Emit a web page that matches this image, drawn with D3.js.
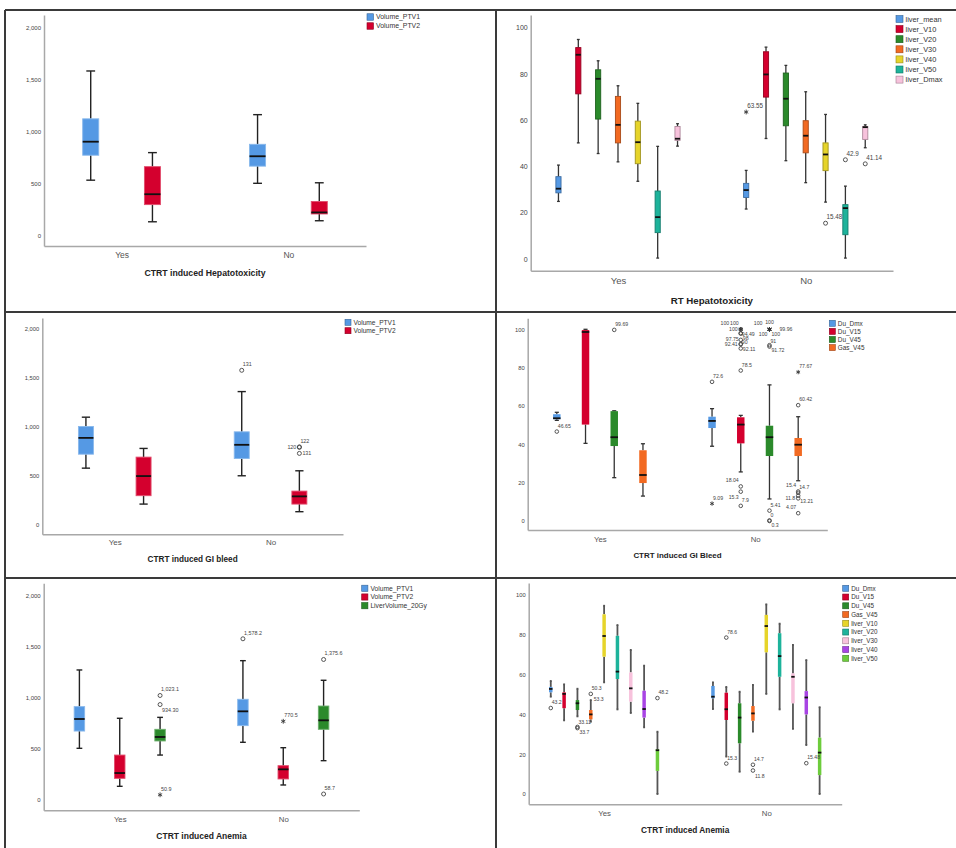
<!DOCTYPE html>
<html><head><meta charset="utf-8">
<script src="https://cdn.jsdelivr.net/npm/d3@7/dist/d3.min.js"></script>
<style>html,body{margin:0;padding:0;background:#fff}</style>
</head><body>
<svg id="chart" width="956" height="848"></svg>
<script>
// ---------------- DATA ----------------
const groups = ['Yes', 'No'];

const hepVolSeries = ['Volume_PTV1', 'Volume_PTV2'];
// [group, series, low, q1, median, q3, high]
const hepVolStats = [
  ['Yes', 'Volume_PTV1', 530, 770, 900, 1120, 1580],
  ['Yes', 'Volume_PTV2', 130, 295, 395, 660, 795],
  ['No',  'Volume_PTV1', 500, 665, 760, 875, 1160],
  ['No',  'Volume_PTV2', 140, 205, 220, 325, 505]
];
const hepVolOutliers = [];

const rtHepSeries = ['liver_mean', 'liver_V10', 'liver_V20', 'liver_V30', 'liver_V40', 'liver_V50', 'liver_Dmax'];
const rtHepStats = [
  ['Yes', 'liver_mean', 24.9, 28.6, 30.4, 35.6, 40.6],
  ['Yes', 'liver_V10', 50.2, 71.4, 88.3, 91.4, 94.9],
  ['Yes', 'liver_V20', 45.6, 60.5, 77.9, 81.8, 85.7],
  ['Yes', 'liver_V30', 42, 50.2, 58, 70.3, 74.9],
  ['Yes', 'liver_V40', 33.6, 41.2, 50.5, 59.6, 67.3],
  ['Yes', 'liver_V50', 0.4, 11.4, 18.1, 29.4, 48.7],
  ['Yes', 'liver_Dmax', 48.8, 51.3, 52, 57.3, 58.5],
  ['No', 'liver_mean', 21.6, 26.6, 29.8, 32.7, 38.3],
  ['No', 'liver_V10', 52.1, 70, 79.8, 89.6, 91.6],
  ['No', 'liver_V20', 42.5, 57.6, 69.3, 80.4, 83.7],
  ['No', 'liver_V30', 33, 45.9, 53.3, 59.8, 72.3],
  ['No', 'liver_V40', 24.6, 38.2, 45.2, 50.2, 62.5],
  ['No', 'liver_V50', 0.4, 10.5, 22, 23.5, 31.5],
  ['No', 'liver_Dmax', 48.1, 51.7, 57, 57.3, 58]
];
// [group, series, value, label, symbol, label side]
const rtHepOutliers = [
  ['No', 'liver_mean', 63.55, '63.55', 'star', 'ne'],
  ['No', 'liver_V40', 15.48, '15.48', 'circle', 'ne'],
  ['No', 'liver_V50', 42.9, '42.9', 'circle', 'ne'],
  ['No', 'liver_Dmax', 41.14, '41.14', 'circle', 'ne']
];

const giVolSeries = ['Volume_PTV1', 'Volume_PTV2'];
const giVolStats = [
  ['Yes', 'Volume_PTV1', 575, 718, 885, 1002, 1097],
  ['Yes', 'Volume_PTV2', 207, 293, 494, 688, 777],
  ['No', 'Volume_PTV1', 497, 674, 814, 947, 1359],
  ['No', 'Volume_PTV2', 129, 207, 286, 340, 548]
];
const giVolOutliers = [
  ['No', 'Volume_PTV1', 1577, '131', 'circle', 'ne'],
  ['No', 'Volume_PTV2', 793, '122', 'circle', 'ne'],
  ['No', 'Volume_PTV2', 788, '120', 'circle', 'w'],
  ['No', 'Volume_PTV2', 726, '131', 'circle', 'e']
];

const giDoseSeries = ['Du_Dmx', 'Du_V15', 'Du_V45', 'Gas_V45'];
const giDoseStats = [
  ['Yes', 'Du_Dmx', 52.5, 53.1, 53.6, 55.7, 56.7],
  ['Yes', 'Du_V15', 40.5, 50.3, 98.6, 99.6, 100],
  ['Yes', 'Du_V45', 22.6, 39.1, 43.7, 57.3, 57.5],
  ['Yes', 'Gas_V45', 13, 19.8, 24, 36.9, 40.3],
  ['No', 'Du_Dmx', 39, 48.5, 52.2, 54.4, 58.6],
  ['No', 'Du_V15', 25.6, 40.5, 50.3, 54.1, 55.1],
  ['No', 'Du_V45', 11.5, 33.9, 43.7, 49.7, 71],
  ['No', 'Gas_V45', 21, 33.9, 39.8, 43.3, 54.4]
];
const giDoseOutliers = [
  ['Yes', 'Du_Dmx', 46.65, '46.65', 'circle', 'ne'],
  ['Yes', 'Du_V45', 99.69, '99.69', 'circle', 'ne'],
  ['No', 'Du_Dmx', 72.6, '72.6', 'circle', 'ne'],
  ['No', 'Du_Dmx', 9.09, '9.09', 'star', 'ne'],
  ['No', 'Du_V15', 100, '100', 'star', 'nww'],
  ['No', 'Du_V15', 100, '100', 'star', 'nw'],
  ['No', 'Du_V15', 100, '100', 'circle', 'w'],
  ['No', 'Du_V15', 98, '98', 'circle', 'se'],
  ['No', 'Du_V15', 97.75, '97.75', 'circle', 'sw'],
  ['No', 'Du_V15', 94.49, '94.49', 'circle', 'ne'],
  ['No', 'Du_V15', 92.41, '92.41', 'circle', 'w'],
  ['No', 'Du_V15', 92.11, '92.11', 'circle', 'se'],
  ['No', 'Du_V15', 90, '90', 'circle', 'ne'],
  ['No', 'Du_V15', 78.5, '78.5', 'circle', 'ne'],
  ['No', 'Du_V15', 18.04, '18.04', 'circle', 'nw'],
  ['No', 'Du_V15', 15.3, '15.3', 'circle', 'sw'],
  ['No', 'Du_V15', 7.9, '7.9', 'circle', 'ne'],
  ['No', 'Du_V45', 100, '100', 'star', 'nwx'],
  ['No', 'Du_V45', 100, '100', 'star', 'n'],
  ['No', 'Du_V45', 100, '100', 'star', 'sw'],
  ['No', 'Du_V45', 100, '100', 'star', 'se'],
  ['No', 'Du_V45', 99.96, '99.96', 'star', 'ee'],
  ['No', 'Du_V45', 91, '91', 'circle', 'ne'],
  ['No', 'Du_V45', 91.72, '91.72', 'circle', 'se'],
  ['No', 'Du_V45', 5.41, '5.41', 'circle', 'ne'],
  ['No', 'Du_V45', 0, '0', 'circle', 'ne'],
  ['No', 'Du_V45', 0.3, '0.3', 'circle', 'se'],
  ['No', 'Gas_V45', 77.67, '77.67', 'star', 'ne'],
  ['No', 'Gas_V45', 60.42, '60.42', 'circle', 'ne'],
  ['No', 'Gas_V45', 15.4, '15.4', 'circle', 'nw'],
  ['No', 'Gas_V45', 14.7, '14.7', 'circle', 'ne'],
  ['No', 'Gas_V45', 13.21, '13.21', 'circle', 'se'],
  ['No', 'Gas_V45', 11.8, '11.8', 'circle', 'w'],
  ['No', 'Gas_V45', 4.07, '4.07', 'circle', 'nw']
];

const anVolSeries = ['Volume_PTV1', 'Volume_PTV2', 'LiverVolume_20Gy'];
const anVolStats = [
  ['Yes', 'Volume_PTV1', 506, 675, 793, 914, 1273],
  ['Yes', 'Volume_PTV2', 134, 212, 264, 440, 800],
  ['Yes', 'LiverVolume_20Gy', 440, 578, 617, 692, 809],
  ['No', 'Volume_PTV1', 565, 728, 868, 986, 1364],
  ['No', 'Volume_PTV2', 147, 206, 300, 336, 512],
  ['No', 'LiverVolume_20Gy', 385, 692, 780, 920, 1172]
];
const anVolOutliers = [
  ['Yes', 'LiverVolume_20Gy', 1023.1, '1,023.1', 'circle', 'ne'],
  ['Yes', 'LiverVolume_20Gy', 934.3, '934.30', 'circle', 'se'],
  ['Yes', 'LiverVolume_20Gy', 50.9, '50.9', 'star', 'ne'],
  ['No', 'Volume_PTV1', 1578.2, '1,578.2', 'circle', 'ne'],
  ['No', 'Volume_PTV2', 770.5, '770.5', 'star', 'ne'],
  ['No', 'LiverVolume_20Gy', 1375.6, '1,375.6', 'circle', 'ne'],
  ['No', 'LiverVolume_20Gy', 58.7, '58.7', 'circle', 'ne']
];

const anDoseSeries = ['Du_Dmx', 'Du_V15', 'Du_V45', 'Gas_V45', 'liver_V10', 'liver_V20', 'liver_V30', 'liver_V40', 'liver_V50'];
const anDoseStats = [
  ['Yes', 'Du_Dmx', 48.9, 51.1, 52.8, 53.8, 56.8],
  ['Yes', 'Du_V15', 37, 43.1, 50.3, 51.1, 55.1],
  ['Yes', 'Du_V45', 39, 42.2, 45.6, 47.2, 52.9],
  ['Yes', 'Gas_V45', 36.3, 37.5, 40, 42.2, 47.2],
  ['Yes', 'liver_V10', 56.1, 69, 79.4, 90.3, 94.6],
  ['Yes', 'liver_V20', 42.5, 57.8, 61.5, 79.5, 84.9],
  ['Yes', 'liver_V30', 40.7, 46.4, 53.1, 61.1, 72.4],
  ['Yes', 'liver_V40', 33.5, 38.4, 42.7, 51.9, 64.5],
  ['Yes', 'liver_V50', 0, 11.6, 22, 22.5, 31.3],
  ['No', 'Du_Dmx', 42.7, 48.1, 48.9, 54.3, 56.1],
  ['No', 'Du_V15', 18.8, 37.2, 42.6, 50.9, 53.8],
  ['No', 'Du_V45', 11.2, 25.5, 38.4, 45.6, 51.4],
  ['No', 'Gas_V45', 31.3, 36.8, 40.5, 44.2, 54.8],
  ['No', 'liver_V10', 50.3, 71.2, 84.4, 90, 95.3],
  ['No', 'liver_V20', 42.5, 58.9, 69.3, 80.8, 85.6],
  ['No', 'liver_V30', 32.7, 45.6, 58.9, 60.6, 74.9],
  ['No', 'liver_V40', 24.6, 40, 48.5, 51.7, 67.3],
  ['No', 'liver_V50', 0, 9.5, 20.8, 28.3, 43.6]
];
const anDoseOutliers = [
  ['Yes', 'Du_Dmx', 43.2, '43.2', 'circle', 'ne'],
  ['Yes', 'Du_V45', 33.11, '33.11', 'circle', 'ne'],
  ['Yes', 'Du_V45', 33.7, '33.7', 'circle', 'se'],
  ['Yes', 'Gas_V45', 50.3, '50.3', 'circle', 'ne'],
  ['Yes', 'Gas_V45', 47.5, '53.3', 'none', 'e'],
  ['Yes', 'liver_V50', 48.2, '48.2', 'circle', 'ne'],
  ['No', 'Du_V15', 78.6, '78.6', 'circle', 'ne'],
  ['No', 'Du_V15', 15.3, '15.3', 'circle', 'ne'],
  ['No', 'Gas_V45', 14.7, '14.7', 'circle', 'ne'],
  ['No', 'Gas_V45', 11.8, '11.8', 'circle', 'se'],
  ['No', 'liver_V40', 15.48, '15.48', 'circle', 'ne']
];

const volTicks = [0, 500, 1000, 1500, 2000];
const pctTicks = [0, 20, 40, 60, 80, 100];

// ---------------- STYLE / LAYOUT ----------------
const palette = ['#5599e4', '#d4002e', '#2b8a2b', '#f26a22', '#e6d42a', '#1db39b', '#f7c2dc', '#a844e4', '#6dcc3c'];
const FONT = "'Liberation Sans', Arial, Helvetica, sans-serif";

const panels = [
  { series: hepVolSeries, stats: hepVolStats, outliers: hepVolOutliers, ticks: volTicks, fmt: d3.format(','),
    title: 'CTRT induced Hepatotoxicity',
    x0: 44, x1: 366, yTop: 15, yBase: 246, yZero: 235.3, yMaxTick: 27.3,
    tickFont: 6, catFont: 8.5, catBase: 258, titleBase: 276, titleFont: 8.7,
    lg: { x: 367, y: 17, step: 9, font: 6.9, sw: 6.5 }, labFont: 5.5, r: 2,
    wColor: '#222', wWidth: 1.4, stroke: 'light' },
  { series: rtHepSeries, stats: rtHepStats, outliers: rtHepOutliers, ticks: pctTicks, fmt: d3.format('d'),
    title: 'RT Hepatotoxicity',
    x0: 530.7, x1: 893, yTop: 15, yBase: 270.7, yZero: 259, yMaxTick: 27.7,
    tickFont: 7, catFont: 9.5, catBase: 284, titleBase: 303.5, titleFont: 9.7,
    lg: { x: 896, y: 19, step: 10.1, font: 7.4, sw: 7 }, labFont: 6.3, r: 2,
    wColor: '#333', wWidth: 1.3, stroke: 'dark' },
  { series: giVolSeries, stats: giVolStats, outliers: giVolOutliers, ticks: volTicks, fmt: d3.format(','),
    title: 'CTRT induced GI bleed',
    x0: 42.3, x1: 343, yTop: 318, yBase: 534.3, yZero: 524.3, yMaxTick: 329,
    tickFont: 5.8, catFont: 8, catBase: 545.5, titleBase: 562, titleFont: 8.2,
    lg: { x: 345, y: 322.3, step: 8.4, font: 6.6, sw: 6 }, labFont: 5.4, r: 2,
    wColor: '#222', wWidth: 1.4, stroke: 'light' },
  { series: giDoseSeries, stats: giDoseStats, outliers: giDoseOutliers, ticks: pctTicks, fmt: d3.format('d'),
    title: 'CTRT induced GI Bleed',
    x0: 527.7, x1: 827.3, yTop: 318.3, yBase: 530, yZero: 521, yMaxTick: 329.3,
    tickFont: 5.8, catFont: 7.8, catBase: 542, titleBase: 558, titleFont: 7.95,
    lg: { x: 829.3, y: 323.3, step: 8.1, font: 6.4, sw: 6 }, labFont: 5.2, r: 1.8,
    wColor: '#333', wWidth: 1.3, stroke: 'same' },
  { series: anVolSeries, stats: anVolStats, outliers: anVolOutliers, ticks: volTicks, fmt: d3.format(','),
    title: 'CTRT induced Anemia',
    x0: 43.7, x1: 359.3, yTop: 583.3, yBase: 810.3, yZero: 800, yMaxTick: 595.7,
    tickFont: 6, catFont: 7.8, catBase: 822, titleBase: 839, titleFont: 8.5,
    lg: { x: 361.7, y: 588.3, step: 8.7, font: 6.7, sw: 6.2 }, labFont: 5.4, r: 2,
    wColor: '#222', wWidth: 1.4, stroke: 'light' },
  { series: anDoseSeries, stats: anDoseStats, outliers: anDoseOutliers, ticks: pctTicks, fmt: d3.format('d'),
    title: 'CTRT induced Anemia',
    x0: 528.7, x1: 841.7, yTop: 583, yBase: 804.3, yZero: 794, yMaxTick: 595,
    tickFont: 5.8, catFont: 7.8, catBase: 816, titleBase: 833, titleFont: 8.3,
    lg: { x: 842.7, y: 588.3, step: 8.75, font: 6.3, sw: 6 }, labFont: 5.1, r: 1.8,
    wColor: '#555', wWidth: 1.8, stroke: 'same' }
];

const labelPlace = {
  ne: [1, -4, 'start'], nw: [-2, -4, 'end'], nww: [-11.5, -4, 'end'], nwx: [-7, -4, 'end'],
  n: [0, -5, 'middle'],
  e: [3, 2, 'start'], ee: [10, 2, 'start'], w: [-3, 2, 'end'],
  se: [2, 7, 'start'], sw: [-2, 7, 'end']
};

// ---------------- DRAW ----------------
const svg = d3.select('#chart');
svg.append('rect').attr('width', 956).attr('height', 848).attr('fill', '#fff');

panels.forEach(p => {
  const g = svg.append('g').style('font-family', FONT);
  const topTick = d3.max(p.ticks);
  const y0 = d3.scaleLinear().domain([0, topTick]).range([p.yZero, p.yMaxTick]);
  const y = d3.scaleLinear().domain([y0.invert(p.yBase), y0.invert(p.yTop)]).range([p.yBase, p.yTop]);
  const x = d3.scalePoint().domain(groups).range([p.x0, p.x1]).padding(0.465);
  const step = x.step();
  const inner = d3.scaleBand().domain(p.series).range([-0.37 * step, 0.37 * step]);
  const slot = inner.bandwidth();
  const bw = slot * 0.26;
  const cap = bw * 0.55;
  const color = s => palette[p.series.indexOf(s)];
  const cxOf = (grp, s) => x(grp) + inner(s) + slot / 2;

  // axes
  const ya = g.append('g').attr('transform', `translate(${p.x0},0)`)
    .call(d3.axisLeft(y).tickValues(p.ticks).tickFormat(p.fmt).tickSize(0).tickSizeOuter(0).tickPadding(3));
  ya.select('.domain').attr('stroke', '#a8a8a8').attr('stroke-width', 1.5);
  ya.selectAll('text').attr('font-size', p.tickFont).attr('fill', '#444').style('font-family', FONT);

  const xa = g.append('g').attr('transform', `translate(0,${p.yBase})`)
    .call(d3.axisBottom(x).tickSize(0).tickSizeOuter(0));
  xa.select('.domain').attr('stroke', '#a8a8a8').attr('stroke-width', 1.5);
  xa.selectAll('text').attr('font-size', p.catFont).attr('fill', '#555')
    .attr('y', p.catBase - p.yBase).attr('dy', 0).style('font-family', FONT);

  g.append('text').attr('x', (p.x0 + p.x1) / 2).attr('y', p.titleBase)
    .attr('text-anchor', 'middle').attr('font-size', p.titleFont).attr('font-weight', 'bold')
    .attr('fill', '#222').text(p.title);

  // boxes
  p.stats.forEach(([grp, s, lo, q1, med, q3, hi]) => {
    const cx = cxOf(grp, s);
    const c = color(s);
    const wl = g.append('g').attr('stroke', p.wColor).attr('stroke-width', p.wWidth);
    wl.append('line').attr('x1', cx).attr('x2', cx).attr('y1', y(q3)).attr('y2', y(hi));
    wl.append('line').attr('x1', cx).attr('x2', cx).attr('y1', y(q1)).attr('y2', y(lo));
    wl.append('line').attr('x1', cx - cap / 2).attr('x2', cx + cap / 2).attr('y1', y(hi)).attr('y2', y(hi));
    wl.append('line').attr('x1', cx - cap / 2).attr('x2', cx + cap / 2).attr('y1', y(lo)).attr('y2', y(lo));
    let st = c;
    if (p.stroke === 'light') st = d3.interpolateRgb(c, '#fff')(0.3);
    if (p.stroke === 'dark') st = d3.color(c).darker(1).formatHex();
    g.append('rect').attr('x', cx - bw / 2).attr('y', y(q3))
      .attr('width', bw).attr('height', Math.max(0.5, y(q1) - y(q3)))
      .attr('fill', c).attr('stroke', st).attr('stroke-width', p.stroke === 'same' ? 0 : 0.9);
    g.append('line').attr('x1', cx - bw / 2).attr('x2', cx + bw / 2)
      .attr('y1', y(med)).attr('y2', y(med)).attr('stroke', '#111').attr('stroke-width', 1.8);
  });

  // outliers
  p.outliers.forEach(([grp, s, v, lab, sym, side]) => {
    const cx = cxOf(grp, s);
    const cy = y(v);
    if (sym === 'circle') {
      g.append('circle').attr('cx', cx).attr('cy', cy).attr('r', p.r)
        .attr('fill', 'none').attr('stroke', '#444').attr('stroke-width', 0.9);
    } else if (sym === 'star') {
      g.append('path').attr('transform', `translate(${cx},${cy})`)
        .attr('d', d3.symbol(d3.symbolAsterisk, p.r * p.r * 4)())
        .attr('fill', 'none').attr('stroke', '#333').attr('stroke-width', 0.9);
    }
    const [dx, dy, anchor] = labelPlace[side];
    g.append('text').attr('x', cx + dx).attr('y', cy + dy).attr('text-anchor', anchor)
      .attr('font-size', p.labFont).attr('fill', '#444').text(lab);
  });

  // legend
  const lg = g.append('g');
  p.series.forEach((s, i) => {
    const cy = p.lg.y + i * p.lg.step;
    lg.append('rect').attr('x', p.lg.x).attr('y', cy - p.lg.sw / 2)
      .attr('width', p.lg.sw).attr('height', p.lg.sw)
      .attr('fill', color(s)).attr('stroke', d3.color(color(s)).darker(1.2).formatHex()).attr('stroke-width', 0.6);
    lg.append('text').attr('x', p.lg.x + p.lg.sw + 2.5).attr('y', cy + p.lg.font * 0.36)
      .attr('font-size', p.lg.font).attr('fill', '#333').text(s);
  });
});

// frame grid
const frame = svg.append('g').attr('stroke', '#3a3a3a').attr('stroke-width', 2);
[[5, 10, 956, 10], [5, 10, 5, 848], [496, 10, 496, 848], [5, 312, 956, 312], [5, 578, 956, 578]]
  .forEach(([a, b, c, d]) => frame.append('line').attr('x1', a).attr('y1', b).attr('x2', c).attr('y2', d));
</script>
</body></html>
